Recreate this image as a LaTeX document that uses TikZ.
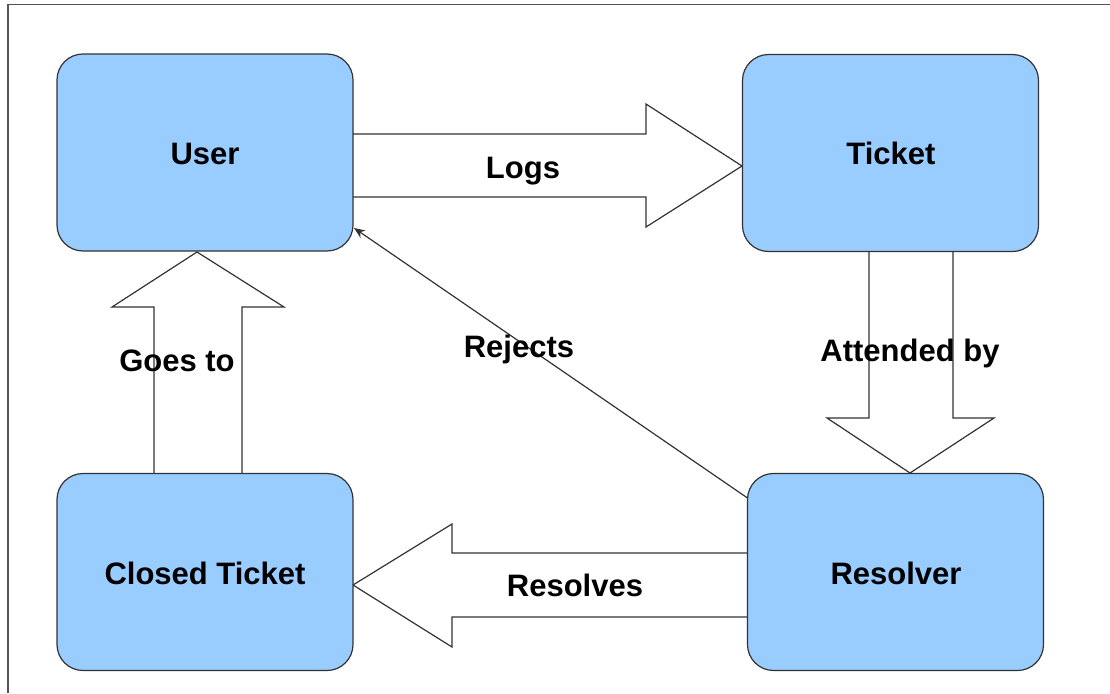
\documentclass[tikz,border=0pt]{standalone}
\usepackage{fontspec}
\setmainfont{Liberation Sans}
\usetikzlibrary{arrows.meta}

\definecolor{boxblue}{HTML}{99CCFF}
\definecolor{boxline}{HTML}{333333}
\definecolor{framegray}{HTML}{555555}

\tikzset{
  state/.style={draw=boxline, line width=1.2pt, fill=boxblue,
    rounded corners=26pt, minimum width=296pt, minimum height=197pt,
    inner sep=0pt, outer sep=0pt},
  lbl/.style={inner sep=0pt, font=\bfseries\fontsize{31}{36}\selectfont,
    text height=22.3pt, text depth=0pt},
  blockarrow/.style={draw=boxline, line width=1.2pt, fill=white, line join=miter},
  thinarrow/.style={draw=boxline, line width=1.2pt,
    -{Stealth[length=11pt,width=9pt]}}
}

\begin{document}
\begin{tikzpicture}[x=1pt, y=-1pt]
  \useasboundingbox (0,0) rectangle (1110,693);

  % page frame (left and top edges)
  \draw[framegray, line width=1.4pt] (8,693) -- (8,4.5) -- (1110,4.5);

  % wide block arrows between the states
  % Logs: User -> Ticket
  \draw[blockarrow] (353,134) -- (646,134) -- (646,104) -- (742,166)
        -- (646,227) -- (646,197) -- (353,197);
  % Goes to: Closed Ticket -> User
  \draw[blockarrow] (154,473) -- (154,307) -- (112,307) -- (197,252)
        -- (284,307) -- (242,307) -- (242,473);
  % Attended by: Ticket -> Resolver
  \draw[blockarrow] (869,252) -- (869,418) -- (827,418) -- (910,473)
        -- (994,418) -- (953,418) -- (953,252);
  % Resolves: Resolver -> Closed Ticket
  \draw[blockarrow] (747,553) -- (452,553) -- (452,524) -- (353,585)
        -- (452,647) -- (452,617) -- (747,617);

  % states
  \node[state] (user)   at (205,152.5)   {};
  \node[state] (ticket) at (890.5,153)   {};
  \node[state] (closed) at (205,572)     {};
  \node[state] (res)    at (895.5,572)   {};

  \node[lbl] (userT)   at (205,153)   {User};
  \node[lbl] (ticketT) at (891,153)   {Ticket};
  \node[lbl] (closedT) at (205,573)   {Closed Ticket};
  \node[lbl] (resT)    at (896,573)   {Resolver};

  % Rejects: Resolver -> User
  \coordinate (rjFrom) at ([yshift=74pt]res.west);
  \coordinate (rjTo)   at ([yshift=-75.5pt,xshift=1pt]user.east);
  \draw[thinarrow] (rjFrom) -- (rjTo);

  % connector labels
  \node[lbl] (logsL)     at (523,167) {Logs};
  \node[lbl] (goesL)     at (177,360) {Goes to};
  \node[lbl] (rejectsL)  at (519,346) {Rejects};
  \node[lbl] (attendedL) at (910,350) {Attended by};
  \node[lbl] (resolvesL) at (575,585) {Resolves};
\end{tikzpicture}
\end{document}
